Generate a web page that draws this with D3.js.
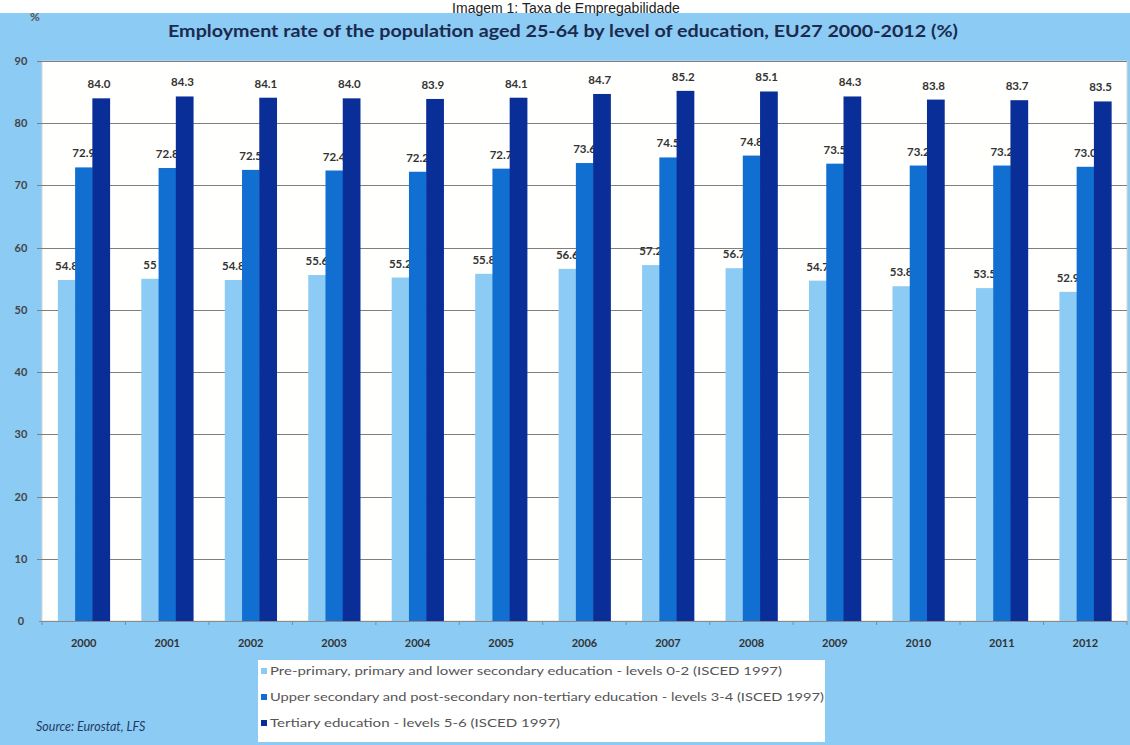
<!DOCTYPE html>
<html><head><meta charset="utf-8">
<script src="https://cdn.jsdelivr.net/npm/d3@7"></script>
<style>
html,body{margin:0;padding:0;background:#fff;}
svg{display:block;}
</style></head>
<body>
<svg id="chart" width="1130" height="745"></svg>
<script>
const years = ["2000","2001","2002","2003","2004","2005","2006","2007","2008","2009","2010","2011","2012"];
const seriesNames = [
  "Pre-primary, primary and lower secondary education - levels 0-2 (ISCED 1997)",
  "Upper secondary and post-secondary non-tertiary education - levels 3-4 (ISCED 1997)",
  "Tertiary education - levels 5-6 (ISCED 1997)"
];
const lowerEdu = [54.8, 55, 54.8, 55.6, 55.2, 55.8, 56.6, 57.2, 56.7, 54.7, 53.8, 53.5, 52.9];
const upperSecEdu = [72.9, 72.8, 72.5, 72.4, 72.2, 72.7, 73.6, 74.5, 74.8, 73.5, 73.2, 73.2, 73.0];
const tertiaryEdu = [84.0, 84.3, 84.1, 84.0, 83.9, 84.1, 84.7, 85.2, 85.1, 84.3, 83.8, 83.7, 83.5];
const yTicks = [0, 10, 20, 30, 40, 50, 60, 70, 80, 90];

const colors = ["#8ccbf3", "#116fd2", "#0a2e98"];
const bg = "#8ccbf3";
const series = [lowerEdu, upperSecEdu, tertiaryEdu];
const fmts = [v => String(v), v => v.toFixed(1), v => v.toFixed(1)];

const svg = d3.select("#chart");
const W = 1130, H = 745;
const plot = {l: 42, t: 61, r: 1127, b: 621};

// backgrounds
svg.append("rect").attr("x",0).attr("y",0).attr("width",W).attr("height",H).attr("fill","#fff");
svg.append("rect").attr("x",0).attr("y",13).attr("width",W).attr("height",H-13).attr("fill",bg);

svg.append("text").attr("x",566).attr("y",13)
  .attr("text-anchor","middle").attr("font-family","Liberation Sans, Arial, sans-serif")
  .attr("font-size",14).attr("fill","#222").text("Imagem 1: Taxa de Empregabilidade");

svg.append("text").attr("x",35).attr("y",21)
  .attr("text-anchor","middle").attr("font-family","Lato, sans-serif").attr("font-weight","bold")
  .attr("font-size",12).attr("fill","#555").text("%");

svg.append("text").attr("x",563).attr("y",37)
  .attr("text-anchor","middle").attr("font-family","Lato, sans-serif").attr("font-weight","bold")
  .attr("font-size",17).attr("fill","#1b2a4e")
  .attr("textLength",790).attr("lengthAdjust","spacingAndGlyphs")
  .text("Employment rate of the population aged 25-64 by level of education, EU27 2000-2012 (%)");

// plot area
svg.append("rect").attr("x",plot.l).attr("y",plot.t).attr("width",plot.r-plot.l).attr("height",plot.b-plot.t)
  .attr("fill","#fffffd").attr("stroke","#d8d8d8").attr("stroke-width",1);

const y = d3.scaleLinear().domain([0,90]).range([plot.b, plot.t]);
const x0 = d3.scaleBand().domain(years).range([plot.l, plot.r]).paddingInner(0.38).paddingOuter(0.19);
const x1 = d3.scaleBand().domain([0,1,2]).range([0, x0.bandwidth()]);

// gridlines and y labels
svg.append("g").selectAll("line").data(yTicks.filter(d=>d>0)).join("line")
  .attr("x1",plot.l-5).attr("x2",plot.r).attr("y1",d=>Math.round(y(d))+0.5).attr("y2",d=>Math.round(y(d))+0.5)
  .attr("stroke","#7f7f7f").attr("stroke-width",1);
svg.append("g").selectAll("text").data(yTicks).join("text")
  .attr("x",21).attr("y",d=>y(d)+4).attr("text-anchor","middle")
  .attr("font-family","Lato, sans-serif").attr("font-weight","bold").attr("font-size",11).attr("fill","#444")
  .text(d=>d);

// bars and labels, series by series so labels sit under the next series
series.forEach((vals, si) => {
  const g = svg.append("g");
  g.selectAll("rect").data(vals).join("rect")
    .attr("x",(d,i)=>x0(years[i])+x1(si)).attr("width",x1.bandwidth()+0.5)
    .attr("y",d=>y(d)).attr("height",d=>y(0)-y(d)).attr("fill",colors[si]);
  g.selectAll("text").data(vals).join("text")
    .attr("x",(d,i)=>x0(years[i])+x1(si)+x1.bandwidth()/2 - (si===2?2:0))
    .attr("y",d=>y(d)-10)
    .attr("text-anchor","middle").attr("font-family","Lato, sans-serif").attr("font-weight","bold")
    .attr("font-size",11.5).attr("fill","#333")
    .text(d=>fmts[si](d));
});

// x axis line
const xAxisG = svg.append("g").attr("transform",`translate(0,${plot.b})`);
xAxisG.append("line").attr("x1",plot.l-3).attr("x2",plot.r).attr("y1",0.5).attr("y2",0.5).attr("stroke","#8a8a8a");
const step = x0.step();
const bounds = years.map((d)=>x0(d)-x0.paddingInner()*step/2).concat([plot.r]);
xAxisG.selectAll("line.tk").data(bounds).join("line").attr("class","tk")
  .attr("x1",d=>d).attr("x2",d=>d).attr("y1",0).attr("y2",4).attr("stroke","#8a8a8a");
xAxisG.selectAll("text").data(years).join("text")
  .attr("x",d=>x0(d)+x0.bandwidth()/2).attr("y",26).attr("text-anchor","middle")
  .attr("font-family","Lato, sans-serif").attr("font-weight","bold").attr("font-size",11).attr("fill","#333")
  .text(d=>d);

// legend
const lg = svg.append("g");
lg.append("rect").attr("x",258).attr("y",660).attr("width",567).attr("height",82).attr("fill","#fff");
const legendLens = [512, 554, 290];
seriesNames.forEach((name, i) => {
  const yy = 673 + i*26;
  lg.append("rect").attr("x",261).attr("y",yy-5).attr("width",6).attr("height",6).attr("fill",colors[i]);
  lg.append("text").attr("x",270).attr("y",yy+2)
    .attr("font-family","Lato, sans-serif").attr("font-size",11).attr("fill","#555")
    .attr("textLength",legendLens[i]).attr("lengthAdjust","spacingAndGlyphs")
    .text(name);
});

svg.append("text").attr("x",36).attr("y",731)
  .attr("font-family","Lato, sans-serif").attr("font-style","italic").attr("font-size",12.5).attr("fill","#1f3a66")
  .text("Source: Eurostat, LFS");
</script>
</body></html>
